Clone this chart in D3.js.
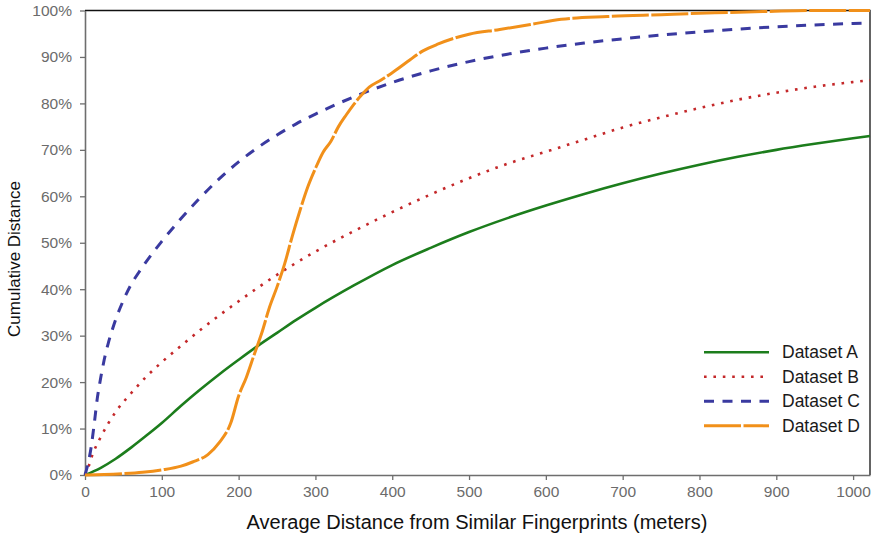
<!DOCTYPE html>
<html>
<head>
<meta charset="utf-8">
<script src="https://cdn.jsdelivr.net/npm/d3@7"></script>
<style>
  html, body { margin: 0; padding: 0; background: #fff; }
  svg { display: block; font-family: "Liberation Sans", Arial, Helvetica, sans-serif; }
</style>
</head>
<body>
<svg id="chart" width="878" height="539"></svg>
<script>
// Cumulative share (%) of fingerprints by average distance (m) to similar fingerprints
const seriesNames = ["Dataset A", "Dataset B", "Dataset C", "Dataset D"];

const distA = [0, 20, 40, 60, 80, 100, 125, 150, 175, 200, 225, 250, 275, 300, 350, 400, 450, 500, 550, 600, 650, 700, 750, 800, 850, 900, 950, 1000, 1022];
const cumA  = [0, 1.5, 3.5, 5.9, 8.5, 11.2, 14.9, 18.4, 21.7, 24.8, 27.8, 30.6, 33.4, 36.0, 40.8, 45.2, 48.9, 52.3, 55.3, 58.0, 60.5, 62.8, 64.9, 66.8, 68.5, 70.0, 71.3, 72.5, 73.0];

const distB = [0, 5, 10, 20, 40, 60, 80, 100, 125, 150, 200, 250, 300, 350, 400, 450, 500, 550, 600, 650, 700, 750, 800, 850, 900, 950, 1000, 1022];
const cumB  = [0, 2.0, 4.5, 8.0, 13.6, 17.6, 21.2, 24.3, 27.8, 31.2, 37.4, 43.1, 48.1, 52.5, 56.6, 60.4, 63.9, 67.0, 69.6, 72.2, 74.8, 77.0, 79.0, 80.8, 82.3, 83.6, 84.6, 85.0];

const distC = [0, 4, 8, 12, 16, 20, 25, 30, 35, 40, 50, 60, 70, 80, 100, 125, 150, 175, 200, 225, 250, 275, 300, 350, 400, 450, 500, 550, 600, 650, 700, 750, 800, 850, 900, 950, 1000, 1022];
const cumC  = [0, 2.5, 6.0, 11.0, 16.5, 20.5, 24.8, 28.2, 31.0, 33.5, 37.6, 41.0, 43.6, 46.0, 50.3, 55.2, 59.7, 63.8, 67.4, 70.5, 73.2, 75.6, 77.7, 81.4, 84.5, 87.0, 89.0, 90.6, 91.9, 93.0, 93.9, 94.7, 95.4, 96.0, 96.5, 96.9, 97.2, 97.3];

const distD = [0, 25, 50, 75, 100, 125, 140, 160, 175, 190, 200, 210, 220, 230, 240, 250, 260, 270, 280, 290, 300, 310, 320, 330, 340, 350, 360, 370, 385, 400, 420, 440, 460, 480, 500, 540, 580, 620, 680, 750, 820, 890, 950, 1022];
const cumD  = [0, 0.1, 0.3, 0.6, 1.1, 1.9, 2.8, 4.4, 7.0, 11.3, 17.0, 21.0, 25.8, 30.5, 36.0, 40.5, 45.5, 51.5, 57.0, 62.0, 66.0, 69.5, 71.8, 75.0, 77.5, 79.8, 81.8, 83.5, 85.0, 86.6, 89.0, 91.3, 92.8, 94.0, 94.9, 95.9, 97.0, 98.1, 98.7, 99.1, 99.5, 99.8, 100, 100];

const xTicks = [0, 100, 200, 300, 400, 500, 600, 700, 800, 900, 1000];
const yTicks = [0, 10, 20, 30, 40, 50, 60, 70, 80, 90, 100];

const xTitle = "Average Distance from Similar Fingerprints (meters)";
const yTitle = "Cumulative Distance";

const styles = [
  { color: "#1c7d1c", width: 2.6, dash: null },
  { color: "#c4282a", width: 2.6, dash: "2.6,6.8" },
  { color: "#3a3aa0", width: 3,   dash: "10,8.5" },
  { color: "#f1901a", width: 3,   dash: "37,2.5" }
];

const svg = d3.select("#chart");
const plotL = 85, plotR = 870, plotT = 10.5, plotB = 475;

const x = d3.scaleLinear().domain([0, 1022]).range([plotL, plotR]);
const y = d3.scaleLinear().domain([0, 100]).range([plotB, plotT]);

const series = [
  distA.map((d, i) => [d, cumA[i]]),
  distB.map((d, i) => [d, cumB[i]]),
  distC.map((d, i) => [d, cumC[i]]),
  distD.map((d, i) => [d, cumD[i]])
];

// Plot frame: black top and right edges
svg.append("path")
  .attr("d", `M${plotL},${plotT}H${plotR}V${plotB}`)
  .attr("fill", "none").attr("stroke", "#111").attr("stroke-width", 1.3);

// Axes
const xAxis = svg.append("g")
  .attr("transform", `translate(0,${plotB})`)
  .call(d3.axisBottom(x).tickValues(xTicks).tickSize(5).tickPadding(6).tickSizeOuter(0)
    .tickFormat(d3.format("d")));
const yAxis = svg.append("g")
  .attr("transform", `translate(${plotL},0)`)
  .call(d3.axisLeft(y).tickValues(yTicks).tickSize(5).tickPadding(8).tickSizeOuter(0)
    .tickFormat(d => d + "%"));

[xAxis, yAxis].forEach(g => {
  g.select(".domain").attr("stroke", "#6e6e6e").attr("stroke-width", 1.6);
  g.selectAll(".tick line").attr("stroke", "#6e6e6e").attr("stroke-width", 1.3);
  g.selectAll(".tick text").attr("fill", "#6b6b6b").style("font-size", "15.5px")
    .style("font-family", "\"Liberation Sans\", Arial, sans-serif");
});

// Lines
const line = d3.line().x(d => x(d[0])).y(d => y(d[1])).curve(d3.curveMonotoneX);
series.forEach((s, i) => {
  const st = styles[i];
  const p = svg.append("path")
    .datum(s)
    .attr("d", line)
    .attr("fill", "none")
    .attr("stroke", st.color)
    .attr("stroke-width", st.width)
    .attr("stroke-linejoin", "round");
  if (st.dash) p.attr("stroke-dasharray", st.dash);
});

// Legend
const legend = svg.append("g");
seriesNames.forEach((name, i) => {
  const ly = 352.3 + i * 24.5;
  const st = styles[i];
  const l = legend.append("line")
    .attr("x1", 704).attr("x2", 769).attr("y1", ly).attr("y2", ly)
    .attr("stroke", st.color).attr("stroke-width", st.width);
  if (st.dash) l.attr("stroke-dasharray", st.dash);
  legend.append("text")
    .attr("x", 782).attr("y", ly)
    .attr("dy", "0.35em")
    .attr("fill", "#1a1a1a")
    .style("font-size", "17.5px")
    .text(name);
});

// Axis titles
svg.append("text")
  .attr("x", 477).attr("y", 529)
  .attr("text-anchor", "middle")
  .attr("fill", "#111")
  .style("font-size", "20px")
  .text(xTitle);

svg.append("text")
  .attr("transform", `translate(20,259) rotate(-90)`)
  .attr("text-anchor", "middle")
  .attr("fill", "#111")
  .style("font-size", "17px")
  .text(yTitle);
</script>
</body>
</html>
